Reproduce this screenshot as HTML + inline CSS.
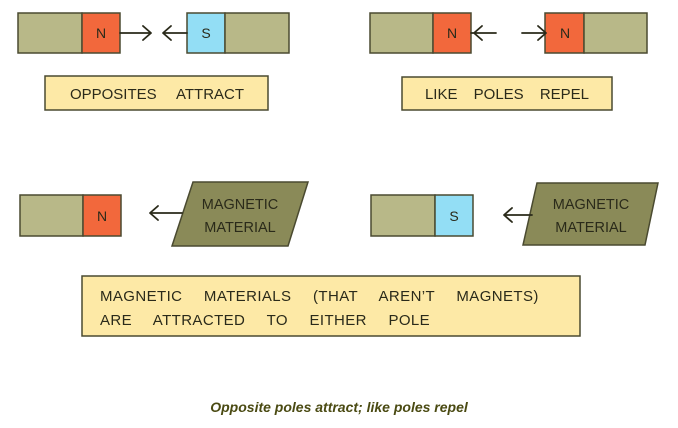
<!DOCTYPE html>
<html><head><meta charset="utf-8"><style>
body{margin:0;background:#fff}
svg{display:block}
text{font-family:"Liberation Sans",sans-serif;fill:#2a2a1a}
</style></head><body>
<svg width="678" height="428" viewBox="0 0 678 428" xmlns="http://www.w3.org/2000/svg">
<g stroke="#4a4a30" stroke-width="1.5">
<rect x="18" y="13" width="64" height="40" fill="#b8b888"/>
<rect x="82" y="13" width="38" height="40" fill="#f2683c"/>
<rect x="187" y="13" width="38" height="40" fill="#93def5"/>
<rect x="225" y="13" width="64" height="40" fill="#b8b888"/>
<rect x="45" y="76" width="223" height="34" fill="#fde9a6"/>
<rect x="370" y="13" width="63" height="40" fill="#b8b888"/>
<rect x="433" y="13" width="38" height="40" fill="#f2683c"/>
<rect x="545" y="13" width="39" height="40" fill="#f2683c"/>
<rect x="584" y="13" width="63" height="40" fill="#b8b888"/>
<rect x="402" y="77" width="210" height="33" fill="#fde9a6"/>
<rect x="20" y="195" width="63" height="41" fill="#b8b888"/>
<rect x="83" y="195" width="38" height="41" fill="#f2683c"/>
<polygon points="193,182 308,182 288,246 172,246" fill="#8a8a58"/>
<rect x="371" y="195" width="64" height="41" fill="#b8b888"/>
<rect x="435" y="195" width="38" height="41" fill="#93def5"/>
<polygon points="537,183 658,183 645,245 523,245" fill="#8a8a58"/>
<rect x="82" y="276" width="498" height="60" fill="#fde9a6"/>
</g>
<g stroke="#2a2a1a" stroke-width="1.8" fill="none" stroke-linecap="round" stroke-linejoin="round">
<path d="M120 33 H150 M143 26 L151 33 L143 40"/>
<path d="M187 33 H164 M171 26 L163 33 L171 40"/>
<path d="M471 33 H496 M482 26 L474 33 L482 40"/>
<path d="M522 33 H545 M538 26 L546 33 L538 40"/>
<path d="M182 213 H151 M158 206 L150 213 L158 220"/>
<path d="M532 215 H505 M512 208 L504 215 L512 222"/>
</g>
<g font-size="14" text-anchor="middle">
<text x="101" y="38">N</text>
<text x="206" y="38">S</text>
<text x="452" y="38">N</text>
<text x="565" y="38">N</text>
<text x="102" y="221">N</text>
<text x="454" y="221">S</text>
<text x="157" y="99" font-size="15" word-spacing="16">OPPOSITES ATTRACT</text>
<text x="507" y="99" font-size="15" word-spacing="12">LIKE POLES REPEL</text>
<text x="240" y="209" font-size="14.5">MAGNETIC</text>
<text x="240" y="232" font-size="14.5">MATERIAL</text>
<text x="591" y="209" font-size="14.5">MAGNETIC</text>
<text x="591" y="232" font-size="14.5">MATERIAL</text>
</g>
<g font-size="15" letter-spacing="0.4" word-spacing="17">
<text x="100" y="301">MAGNETIC MATERIALS (THAT AREN’T MAGNETS)</text>
<text x="100" y="325">ARE ATTRACTED TO EITHER POLE</text>
</g>
<text x="339" y="412" font-size="14" font-weight="bold" font-style="italic" text-anchor="middle" style="fill:#4a4a12">Opposite poles attract; like poles repel</text>
</svg>
</body></html>
